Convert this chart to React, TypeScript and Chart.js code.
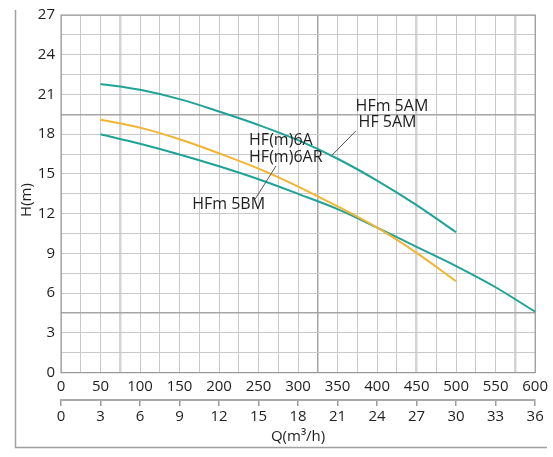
import React, { useEffect, useRef } from 'react';
import { Chart, registerables } from 'chart.js';
Chart.register(...registerables);

// Flow (L/min) sample points
const flowA = [50, 100, 150, 200, 250, 300, 350, 400, 450, 500];
const flowB = [50, 100, 150, 200, 250, 300, 350, 400, 450, 500, 550, 600];
// Head (m)
const headHF5AM = [21.8, 21.35, 20.65, 19.72, 18.7, 17.55, 16.15, 14.5, 12.65, 10.6];
const headHF6A = [19.1, 18.5, 17.62, 16.56, 15.4, 14.05, 12.55, 10.95, 9.05, 6.9];
const headHFm5BM = [18.0, 17.28, 16.47, 15.58, 14.6, 13.5, 12.35, 10.95, 9.5, 8.05, 6.45, 4.6];

const annotationTexts = ['HFm 5AM', 'HF 5AM', 'HF(m)6A', 'HF(m)6AR', 'HFm 5BM'];
const annotationX = [372.8, 376.6, 238, 238, 166];
const annotationY = [20.12, 18.91, 17.55, 16.27, 12.71];
const leaderFrom = [[373.2, 18.25], [272, 15.6]];
const leaderTo = [[343, 16.42], [245.6, 13.1]];

const TEAL = '#1fa396';
const ORANGE = '#f4b431';
const FONT = 'Open Sans';

const decor = {
  id: 'decor',
  beforeDraw(chart: any) {
    const { ctx } = chart;
    ctx.save();
    ctx.fillStyle = '#fff';
    ctx.fillRect(0, 0, chart.width, chart.height);
    ctx.strokeStyle = '#a0a0a0';
    ctx.lineWidth = 1.5;
    ctx.beginPath();
    ctx.moveTo(15.5, 10);
    ctx.lineTo(15.5, 447.5);
    ctx.lineTo(547, 447.5);
    ctx.stroke();
    ctx.restore();
  },
  beforeDatasetsDraw(chart: any) {
    const { ctx, chartArea: a } = chart;
    ctx.save();
    ctx.strokeStyle = '#8e8e8e';
    ctx.lineWidth = 1;
    ctx.strokeRect(a.left, a.top, a.right - a.left, a.bottom - a.top);
    ctx.restore();
  },
  afterDraw(chart: any) {
    const { ctx } = chart;
    const xs = chart.scales.x;
    const ys = chart.scales.y;
    ctx.save();
    ctx.fillStyle = '#1e1e1e';
    ctx.font = `16px "${FONT}"`;
    ctx.textAlign = 'left';
    ctx.textBaseline = 'middle';
    annotationTexts.forEach((t, i) => {
      ctx.fillText(t, xs.getPixelForValue(annotationX[i]), ys.getPixelForValue(annotationY[i]));
    });
    ctx.strokeStyle = '#555';
    ctx.lineWidth = 1;
    leaderFrom.forEach((f, i) => {
      ctx.beginPath();
      ctx.moveTo(xs.getPixelForValue(f[0]), ys.getPixelForValue(f[1]));
      ctx.lineTo(xs.getPixelForValue(leaderTo[i][0]), ys.getPixelForValue(leaderTo[i][1]));
      ctx.stroke();
    });
    // Y axis title
    ctx.font = `15px "${FONT}"`;
    ctx.textAlign = 'center';
    ctx.translate(27, 200);
    ctx.rotate(-Math.PI / 2);
    ctx.fillText('H(m)', 0, 0);
    ctx.restore();
  },
};

export default function App() {
  const ref = useRef<HTMLCanvasElement>(null);
  useEffect(() => {
    document.body.style.margin = '0';
    const gridX = (c: any) => {
      const v = c.tick?.value;
      if (v === 325) return '#a5a5a5';
      if (v === 75 || v === 450 || v === 575) return '#d4d4d4';
      return '#c9c9c9';
    };
    const gridXW = (c: any) => {
      const v = c.tick?.value;
      if (v === 325) return 1.5;
      if (v === 75 || v === 450 || v === 575) return 2.5;
      return 1;
    };
    const gridY = (c: any) => {
      const v = c.tick?.value;
      if (v === 19.5 || v === 4.5) return '#a5a5a5';
      return '#c9c9c9';
    };
    const gridYW = (c: any) => {
      const v = c.tick?.value;
      if (v === 19.5 || v === 4.5) return 1.5;
      return 1;
    };
    const ds = (label: string, xs: number[], ys: number[], color: string) => ({
      label,
      data: xs.map((x, i) => ({ x, y: ys[i] })),
      borderColor: color,
      borderWidth: 2,
      pointRadius: 0,
      tension: 0.35,
      xAxisID: 'x',
      yAxisID: 'y',
    });
    const chart = new Chart(ref.current!, {
      type: 'line',
      data: {
        datasets: [
          ds('HFm 5AM / HF 5AM', flowA, headHF5AM, TEAL),
          ds('HF(m)6A / HF(m)6AR', flowA, headHF6A, ORANGE),
          ds('HFm 5BM', flowB, headHFm5BM, TEAL),
        ],
      },
      options: {
        responsive: false,
        animation: false,
        devicePixelRatio: 1,
        layout: { padding: { top: 15, right: 15.5, left: 0, bottom: 0 } },
        plugins: { legend: { display: false }, tooltip: { enabled: false } },
        scales: {
          x: {
            type: 'linear',
            position: 'bottom',
            min: 0,
            max: 600,
            afterFit: (s: any) => { s.height = 27.3; },
            ticks: {
              stepSize: 25,
              autoSkip: false,
              maxRotation: 0,
              padding: 5,
              color: '#1e1e1e',
              font: { family: FONT, size: 15 },
              callback: (v: any) => (v % 50 === 0 ? String(v) : ''),
            },
            grid: { color: gridX, lineWidth: gridXW, drawTicks: false },
            border: { display: false },
          },
          y: {
            type: 'linear',
            min: 0,
            max: 27,
            afterFit: (s: any) => { s.width = 61; },
            ticks: {
              stepSize: 1.5,
              autoSkip: false,
              padding: 6,
              color: '#1e1e1e',
              font: { family: FONT, size: 15 },
              callback: (v: any) => (Math.abs(v % 3) < 1e-9 ? String(v) : ''),
            },
            grid: { color: gridY, lineWidth: gridYW, drawTicks: false },
            border: { display: false },
          },
          x2: {
            type: 'linear',
            position: 'bottom',
            min: 0,
            max: 36,
            afterFit: (s: any) => { s.height = 57; },
            ticks: {
              stepSize: 3,
              autoSkip: false,
              maxRotation: 0,
              padding: 2,
              color: '#1e1e1e',
              font: { family: FONT, size: 15 },
            },
            grid: { drawOnChartArea: false, drawTicks: true, tickLength: 6, color: '#9a9a9a', lineWidth: 1.5 },
            border: { display: true, color: '#aaaaaa', width: 2 },
            title: {
              display: true,
              text: 'Q(m³/h)',
              color: '#1e1e1e',
              font: { family: FONT, size: 15 },
              padding: { top: 0, bottom: 11 },
            },
          },
        },
      },
      plugins: [decor],
    } as any);
    return () => chart.destroy();
  }, []);
  return (
    <div style={{ width: 553, height: 457 }}>
      <canvas ref={ref} width={553} height={457} style={{ display: 'block' }} />
    </div>
  );
}
